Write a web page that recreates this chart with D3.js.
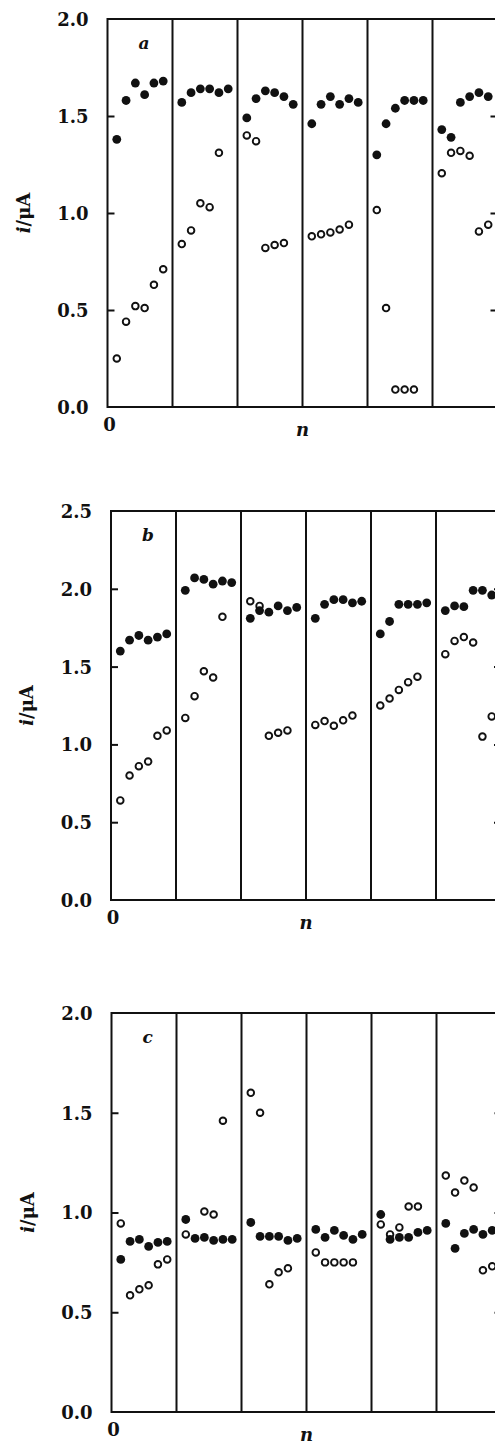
<!DOCTYPE html>
<html>
<head>
<meta charset="utf-8">
<script src="https://cdn.jsdelivr.net/npm/d3@7"></script>
<style>
  body { margin: 0; background: #fff; }
  svg { display: block; }
  .tick-label { font-family: "DejaVu Serif", serif; font-weight: bold; font-size: 18px; fill: #111; }
</style>
</head>
<body>
<svg id="chart" width="495" height="1446"></svg>
<script>
// six sections per panel, six runs (n = 1..6) per section
var sectionCount = 6;
var sectionWidth = 7;

// panel a
var aTicks = [0, 0.5, 1.0, 1.5, 2.0];
var aFilled = [
  [1.38, 1.58, 1.67, 1.61, 1.67, 1.68],
  [1.57, 1.62, 1.64, 1.64, 1.62, 1.64],
  [1.49, 1.59, 1.63, 1.62, 1.60, 1.56],
  [1.46, 1.56, 1.60, 1.56, 1.59, 1.57],
  [1.30, 1.46, 1.54, 1.58, 1.58, 1.58],
  [1.43, 1.39, 1.57, 1.60, 1.62, 1.60]
];
var aOpen = [
  [0.25, 0.44, 0.52, 0.51, 0.63, 0.71],
  [0.84, 0.91, 1.05, 1.03, 1.31, null],
  [1.40, 1.37, 0.82, 0.835, 0.845, null],
  [0.88, 0.89, 0.90, 0.915, 0.94, null],
  [1.015, 0.51, 0.09, 0.09, 0.09, null],
  [1.205, 1.31, 1.32, 1.295, 0.905, 0.94]
];

// panel b
var bTicks = [0, 0.5, 1.0, 1.5, 2.0, 2.5];
var bFilled = [
  [1.60, 1.67, 1.70, 1.67, 1.69, 1.71],
  [1.99, 2.07, 2.06, 2.03, 2.05, 2.04],
  [1.81, 1.86, 1.85, 1.89, 1.86, 1.88],
  [1.81, 1.90, 1.93, 1.93, 1.91, 1.92],
  [1.71, 1.79, 1.90, 1.90, 1.90, 1.91],
  [1.86, 1.89, 1.885, 1.99, 1.99, 1.96]
];
var bOpen = [
  [0.64, 0.80, 0.86, 0.89, 1.055, 1.09],
  [1.17, 1.31, 1.47, 1.43, 1.82, null],
  [1.92, 1.89, 1.055, 1.075, 1.09, null],
  [1.125, 1.15, 1.12, 1.155, 1.185, null],
  [1.25, 1.295, 1.35, 1.40, 1.435, null],
  [1.58, 1.665, 1.69, 1.655, 1.05, 1.18]
];

// panel c
var cTicks = [0, 0.5, 1.0, 1.5, 2.0];
var cFilled = [
  [0.765, 0.855, 0.865, 0.83, 0.85, 0.855],
  [0.965, 0.87, 0.875, 0.86, 0.865, 0.865],
  [0.95, 0.88, 0.88, 0.88, 0.86, 0.87],
  [0.915, 0.875, 0.91, 0.885, 0.865, 0.89],
  [0.99, 0.865, 0.875, 0.875, 0.90, 0.91],
  [0.945, 0.82, 0.895, 0.915, 0.89, 0.91]
];
var cOpen = [
  [0.945, 0.585, 0.615, 0.635, 0.74, 0.765],
  [0.89, null, 1.005, 0.99, 1.46, null],
  [1.60, 1.50, 0.64, 0.70, 0.72, null],
  [0.80, 0.75, 0.75, 0.75, 0.75, null],
  [0.94, 0.89, 0.925, 1.03, 1.03, null],
  [1.185, 1.10, 1.16, 1.125, 0.71, 0.73]
];

var panelLetters = ["a", "b", "c"];

// layout (pixels)
var panels = [
  { letter: panelLetters[0], ticks: aTicks, filled: aFilled, open: aOpen, left: 107.5, top: 19,   bottom: 407 },
  { letter: panelLetters[1], ticks: bTicks, filled: bFilled, open: bOpen, left: 111,   top: 511,  bottom: 900 },
  { letter: panelLetters[2], ticks: cTicks, filled: cFilled, open: cOpen, left: 111.5, top: 1013, bottom: 1412 }
];
var plotWidth = 390;
var ink = "#111";

var svg = d3.select("#chart");

function toPoints(sections) {
  var pts = [];
  sections.forEach(function (vals, s) {
    vals.forEach(function (v, k) {
      if (v !== null) pts.push({ x: s * sectionWidth + k + 1, y: v });
    });
  });
  return pts;
}

panels.forEach(function (p) {
  var yMax = p.ticks[p.ticks.length - 1];
  var x = d3.scaleLinear().domain([0, sectionCount * sectionWidth]).range([p.left, p.left + plotWidth]);
  var y = d3.scaleLinear().domain([0, yMax]).range([p.bottom, p.top]);
  var g = svg.append("g");

  // inner ticks, left and right (skip the ends)
  var inner = p.ticks.slice(1, -1);
  g.append("g")
    .attr("transform", "translate(" + p.left + ",0)")
    .call(d3.axisLeft(y).tickValues(inner).tickSize(-7).tickSizeOuter(0).tickFormat(""))
    .call(function (a) { a.select(".domain").remove(); a.selectAll("line").attr("stroke", ink).attr("stroke-width", 2); });
  g.append("g")
    .attr("transform", "translate(" + (p.left + plotWidth) + ",0)")
    .call(d3.axisRight(y).tickValues(inner).tickSize(-7).tickSizeOuter(0).tickFormat(""))
    .call(function (a) { a.select(".domain").remove(); a.selectAll("line").attr("stroke", ink).attr("stroke-width", 2); });

  // tick labels
  g.append("g")
    .attr("transform", "translate(" + p.left + ",0)")
    .call(d3.axisLeft(y).tickValues(p.ticks).tickSize(0).tickPadding(19).tickFormat(d3.format(".1f")))
    .call(function (a) {
      a.select(".domain").remove();
      a.selectAll("text").attr("class", "tick-label").attr("font-size", null).attr("font-family", null).attr("dy", "0.36em");
    });

  // section dividers
  g.selectAll("line.divider")
    .data(d3.range(1, sectionCount))
    .enter().append("line")
    .attr("class", "divider")
    .attr("x1", function (d) { return x(d * sectionWidth); })
    .attr("x2", function (d) { return x(d * sectionWidth); })
    .attr("y1", p.top).attr("y2", p.bottom)
    .attr("stroke", ink).attr("stroke-width", 2);

  // frame
  g.append("rect")
    .attr("x", p.left).attr("y", p.top)
    .attr("width", plotWidth).attr("height", p.bottom - p.top)
    .attr("fill", "none").attr("stroke", ink).attr("stroke-width", 2);

  // open circles below, filled on top
  g.selectAll("circle.open")
    .data(toPoints(p.open))
    .enter().append("circle")
    .attr("class", "open")
    .attr("cx", function (d) { return x(d.x); })
    .attr("cy", function (d) { return y(d.y); })
    .attr("r", 3.3)
    .attr("fill", "#fff").attr("stroke", ink).attr("stroke-width", 1.9);

  g.selectAll("circle.filled")
    .data(toPoints(p.filled))
    .enter().append("circle")
    .attr("class", "filled")
    .attr("cx", function (d) { return x(d.x); })
    .attr("cy", function (d) { return y(d.y); })
    .attr("r", 4.4)
    .attr("fill", ink);

  // panel letter
  g.append("text")
    .attr("x", p.left + 31).attr("y", p.top + 30)
    .attr("font-family", "DejaVu Serif, serif").attr("font-weight", "bold").attr("font-style", "italic")
    .attr("font-size", 17).attr("fill", ink)
    .text(p.letter);

  // x origin label and axis title
  g.append("text")
    .attr("class", "tick-label")
    .attr("x", p.left + 2).attr("y", p.bottom + 24)
    .attr("text-anchor", "middle")
    .text("0");
  g.append("text")
    .attr("x", x(sectionCount * sectionWidth / 2)).attr("y", p.bottom + 29)
    .attr("text-anchor", "middle")
    .attr("font-family", "DejaVu Serif, serif").attr("font-weight", "bold").attr("font-style", "italic")
    .attr("font-size", 18).attr("fill", ink)
    .text("n");

  // y title
  var yt = g.append("text")
    .attr("transform", "translate(" + (p.left - 78) + "," + ((p.top + p.bottom) / 2) + ") rotate(-90)")
    .attr("text-anchor", "middle")
    .attr("font-family", "DejaVu Serif, serif").attr("font-weight", "bold")
    .attr("font-size", 18).attr("fill", ink);
  yt.append("tspan").attr("font-style", "italic").text("i");
  yt.append("tspan").text("/\u03bcA");
});
</script>
</body>
</html>
